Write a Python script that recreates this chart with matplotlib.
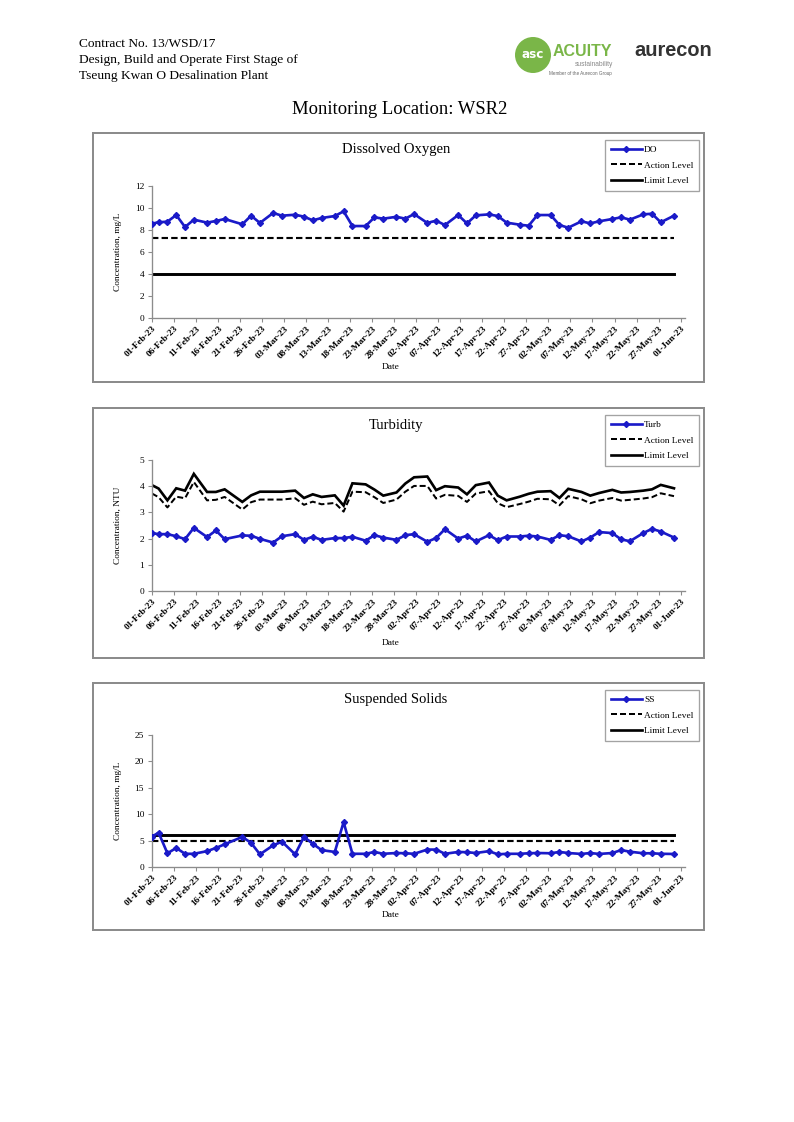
import matplotlib
matplotlib.use("Agg")
import matplotlib.pyplot as plt
import matplotlib.dates as mdates
import pandas as pd
from matplotlib.patches import Rectangle, Circle
from matplotlib.lines import Line2D

# ---------------- data ----------------
header_lines = ["Contract No. 13/WSD/17",
                "Design, Build and Operate First Stage of",
                "Tseung Kwan O Desalination Plant"]
page_title = "Monitoring Location: WSR2"

sample_times = [
    "2023-02-01 00:00", "2023-02-02 12:00", "2023-02-04 12:00", "2023-02-06 12:00",
    "2023-02-08 12:00", "2023-02-10 12:00", "2023-02-13 12:00", "2023-02-15 12:00",
    "2023-02-17 12:00", "2023-02-21 12:00", "2023-02-23 12:00", "2023-02-25 12:00",
    "2023-02-28 12:00", "2023-03-02 12:00", "2023-03-05 12:00", "2023-03-07 12:00",
    "2023-03-09 12:00", "2023-03-11 12:00", "2023-03-14 12:00", "2023-03-16 12:00",
    "2023-03-18 12:00", "2023-03-21 12:00", "2023-03-23 12:00", "2023-03-25 12:00",
    "2023-03-28 12:00", "2023-03-30 12:00", "2023-04-01 12:00", "2023-04-04 12:00",
    "2023-04-06 12:00", "2023-04-08 12:00", "2023-04-11 12:00", "2023-04-13 12:00",
    "2023-04-15 12:00", "2023-04-18 12:00", "2023-04-20 12:00", "2023-04-22 12:00",
    "2023-04-25 12:00", "2023-04-27 12:00", "2023-04-29 12:00", "2023-05-02 12:00",
    "2023-05-04 12:00", "2023-05-06 12:00", "2023-05-09 12:00", "2023-05-11 12:00",
    "2023-05-13 12:00", "2023-05-16 12:00", "2023-05-18 12:00", "2023-05-20 12:00",
    "2023-05-23 12:00", "2023-05-25 12:00", "2023-05-27 12:00", "2023-05-30 12:00",
]

do_values = [8.58, 8.70, 8.76, 9.36, 8.27, 8.94, 8.67, 8.82, 9.00, 8.52, 9.30, 8.64,
             9.55, 9.30, 9.39, 9.21, 8.88, 9.09, 9.27, 9.70, 8.36, 8.36, 9.15, 9.03,
             9.20, 9.03, 9.45, 8.64, 8.85, 8.45, 9.36, 8.60, 9.33, 9.42, 9.27, 8.67,
             8.48, 8.39, 9.36, 9.36, 8.45, 8.21, 8.79, 8.60, 8.79, 9.00, 9.15, 8.94,
             9.42, 9.48, 8.70, 9.30]
do_action = 7.28
do_limit = 4.0

turb_values = [2.21, 2.17, 2.17, 2.09, 1.98, 2.41, 2.06, 2.31, 1.98, 2.12, 2.11, 1.99,
               1.85, 2.09, 2.17, 1.95, 2.07, 1.95, 2.02, 2.02, 2.07, 1.92, 2.13, 2.04,
               1.95, 2.13, 2.17, 1.88, 2.02, 2.36, 2.00, 2.11, 1.89, 2.13, 1.94, 2.08,
               2.08, 2.11, 2.08, 1.95, 2.13, 2.09, 1.89, 2.04, 2.25, 2.21, 1.97, 1.90,
               2.21, 2.37, 2.27, 2.04]
turb_action = [3.72, 3.58, 3.19, 3.60, 3.54, 4.16, 3.46, 3.48, 3.59, 3.11, 3.39, 3.49,
               3.49, 3.49, 3.54, 3.29, 3.41, 3.31, 3.36, 3.03, 3.79, 3.77, 3.58, 3.36,
               3.49, 3.79, 4.01, 4.01, 3.53, 3.67, 3.63, 3.40, 3.72, 3.81, 3.35, 3.20,
               3.32, 3.41, 3.52, 3.50, 3.27, 3.62, 3.50, 3.35, 3.45, 3.55, 3.45, 3.48,
               3.53, 3.58, 3.73, 3.62]
turb_limit = [4.04, 3.91, 3.46, 3.92, 3.83, 4.47, 3.78, 3.78, 3.88, 3.40, 3.65, 3.79,
              3.79, 3.79, 3.83, 3.55, 3.69, 3.59, 3.65, 3.26, 4.11, 4.07, 3.87, 3.64,
              3.76, 4.10, 4.34, 4.37, 3.85, 4.00, 3.95, 3.69, 4.04, 4.14, 3.64, 3.46,
              3.60, 3.71, 3.79, 3.81, 3.55, 3.90, 3.78, 3.64, 3.74, 3.86, 3.76, 3.78,
              3.83, 3.88, 4.05, 3.92]

ss_values = [5.76, 6.50, 2.60, 3.60, 2.50, 2.50, 3.00, 3.60, 4.30, 5.70, 4.56, 2.40,
             4.10, 4.80, 2.40, 5.70, 4.40, 3.20, 2.85, 8.50, 2.50, 2.50, 2.85, 2.50,
             2.65, 2.60, 2.50, 3.30, 3.30, 2.50, 2.85, 2.80, 2.65, 3.00, 2.40, 2.50,
             2.50, 2.60, 2.65, 2.60, 2.85, 2.65, 2.47, 2.65, 2.47, 2.65, 3.20, 2.90,
             2.60, 2.60, 2.50, 2.47]
ss_action = 5.0
ss_limit = 6.0

# ---------------- figure ----------------
plt.rcParams['font.family'] = ['Liberation Serif', 'DejaVu Serif']
W, H = 794, 1122
DPI = 96
fig = plt.figure(figsize=(W / DPI, H / DPI), dpi=DPI)


def fx(x):
    return x / W


def fy(y):
    return 1 - y / H


for i, line in enumerate(header_lines):
    fig.text(fx(79), fy(44 + 16 * i), line, fontsize=10, ha='left', va='center')

# logos
fig.patches.append(Circle((533 / DPI, (H - 55) / DPI), 18 / DPI, transform=fig.dpi_scale_trans,
                          facecolor='#7AB648', edgecolor='none'))
fig.text(fx(533), fy(55), 'asc', color='white', fontsize=9, fontweight='bold',
         family='DejaVu Sans', ha='center', va='center')
fig.text(fx(553), fy(51), 'ACUITY', color='#7AB648', fontsize=12, fontweight='bold',
         family='Liberation Sans', ha='left', va='center')
fig.text(fx(613), fy(64), 'sustainability', color='#888888', fontsize=5,
         family='Liberation Sans', ha='right', va='center')
fig.text(fx(580), fy(73), 'Member of the Aurecon Group', color='#666666', fontsize=3.5,
         family='Liberation Sans', ha='center', va='center')
fig.text(fx(634), fy(50), 'aurecon', color='#333333', fontsize=15, fontweight='bold',
         family='Liberation Sans', ha='left', va='center')

fig.text(fx(400), fy(110), page_title, fontsize=14, ha='center', va='center')

x = pd.to_datetime(sample_times)
tick_dates = pd.date_range('2023-02-01', '2023-06-01', freq='5D')
BLUE = '#1A1AC8'
GRAY = '#8c8c8c'


def draw_chart(frame_top, frame_bottom, plot_top, plot_bottom, title, ylabel,
               series, series_name, action, limit, ymax, ystep):
    fig.patches.append(Rectangle((fx(93), fy(frame_bottom)), fx(704) - fx(93),
                                 fy(frame_top) - fy(frame_bottom), transform=fig.transFigure,
                                 fill=False, edgecolor=GRAY, linewidth=1.5))
    ax = fig.add_axes([fx(152), fy(plot_bottom), fx(685) - fx(152), fy(plot_top) - fy(plot_bottom)])
    if isinstance(action, list):
        ax.plot(x, limit, color='black', lw=2, solid_joinstyle='miter')
        ax.plot(x, action, color='black', lw=1.5, ls=(0, (3, 1.5)))
    else:
        ax.plot([x[0], x[-1]], [limit, limit], color='black', lw=2.2)
        ax.plot([x[0], x[-1]], [action, action], color='black', lw=1.6, ls=(0, (3, 1.5)))
    ax.plot(x, series, color=BLUE, lw=2, marker='D', markersize=3.2, zorder=5)
    ax.set_xlim(pd.Timestamp('2023-02-01'), pd.Timestamp('2023-06-02'))
    ax.set_ylim(0, ymax)
    ax.set_yticks(range(0, ymax + 1, ystep))
    ax.set_xticks(tick_dates)
    ax.xaxis.set_major_formatter(mdates.DateFormatter('%d-%b-%y'))
    for lab in ax.get_xticklabels():
        lab.set_rotation(45)
        lab.set_ha('right')
        lab.set_rotation_mode('anchor')
        lab.set_fontsize(7)
        lab.set_fontweight('bold')
    ax.tick_params(axis='y', labelsize=7, length=3, color=GRAY, pad=3)
    ax.tick_params(axis='x', length=3, color=GRAY, pad=2)
    for s in ['top', 'right']:
        ax.spines[s].set_visible(False)
    for s in ['left', 'bottom']:
        ax.spines[s].set_color(GRAY)
        ax.spines[s].set_linewidth(1)
    ax.patch.set_alpha(0)

    fig.text(fx(396), fy(frame_top + 17), title, fontsize=11, ha='center', va='center')
    fig.text(fx(391), fy(frame_bottom - 15), 'Date', fontsize=7, ha='center', va='center')
    fig.text(fx(118), fy((plot_top + plot_bottom) / 2), ylabel, fontsize=7, rotation=90,
             ha='center', va='center')

    handles = [Line2D([], [], color=BLUE, lw=2, marker='D', markersize=3.2),
               Line2D([], [], color='black', lw=1.5, ls=(0, (3, 1.5))),
               Line2D([], [], color='black', lw=2)]
    fig.legend(handles, [series_name, 'Action Level', 'Limit Level'], loc='upper right',
               bbox_to_anchor=(fx(699), fy(frame_top + 7)), frameon=True, fancybox=False,
               edgecolor=GRAY, fontsize=7, handlelength=3.3, labelspacing=0.75,
               borderpad=0.6, handletextpad=0.25, borderaxespad=0)
    fig.legends[-1].get_frame().set_linewidth(1)
    return ax


draw_chart(133, 382, 186, 318, 'Dissolved Oxygen', 'Concentration, mg/L',
           do_values, 'DO', do_action, do_limit, 12, 2)
draw_chart(408, 658, 460, 591, 'Turbidity', 'Concentration, NTU',
           turb_values, 'Turb', turb_action, turb_limit, 5, 1)
draw_chart(683, 930, 735, 867, 'Suspended Solids', 'Concentration, mg/L',
           ss_values, 'SS', ss_action, ss_limit, 25, 5)

fig.savefig('out.png', dpi=DPI)
